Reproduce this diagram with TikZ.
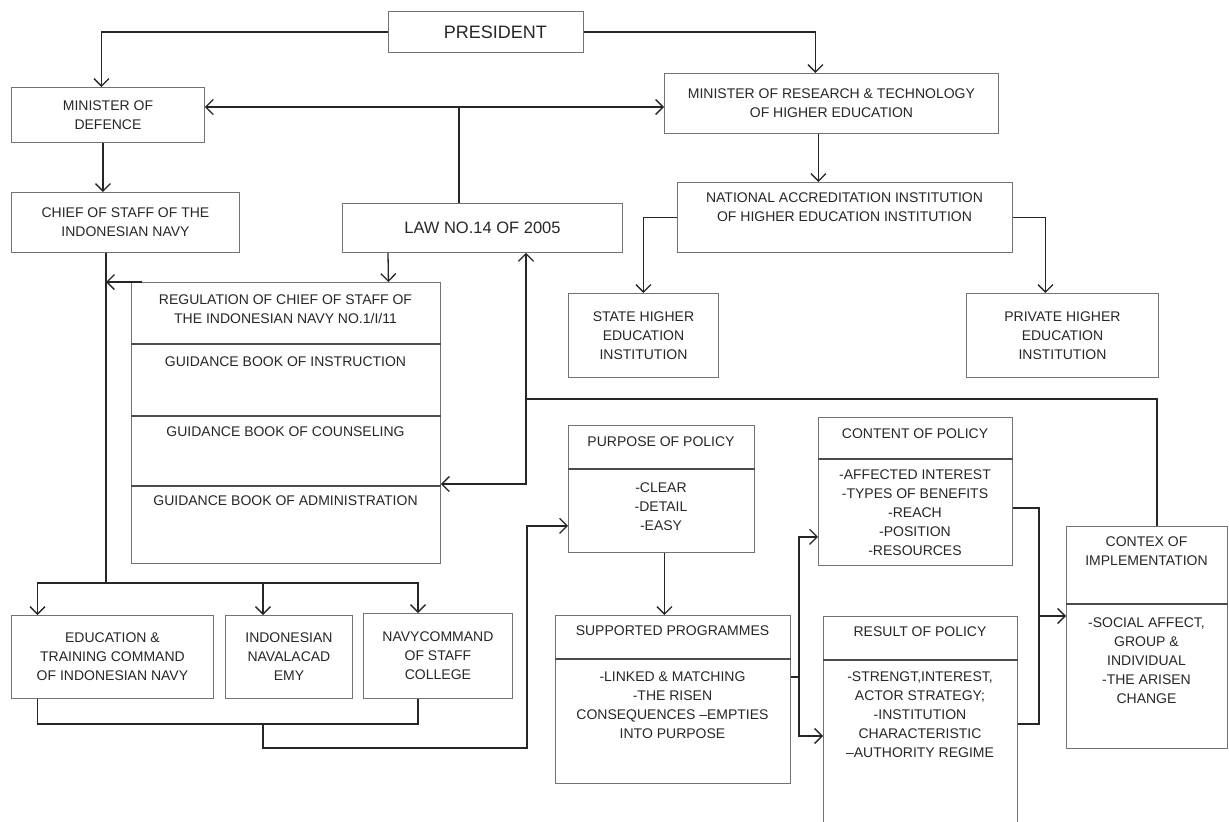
\documentclass[tikz,border=0pt]{standalone}
\usepackage{fontspec}
\setmainfont{Liberation Sans}
\usetikzlibrary{arrows.meta}

\begin{document}
\begin{tikzpicture}[x=1pt, y=-1pt,
    box/.style={draw=black!55, line width=0.9pt, inner sep=2pt, align=center, text=black!85, font=\fontsize{14}{19}\selectfont},
    txt/.style={inner sep=0pt, align=center, text=black!85, font=\fontsize{14}{19}\selectfont},
    link/.style={draw=black!85, line width=1.3pt},
    sep/.style={draw=black!70, line width=1.2pt},
    arr/.style={link, -{Straight Barb[length=7.5pt, width=15pt]}},
    arr2/.style={link, {Straight Barb[length=7.5pt, width=15pt]}-{Straight Barb[length=7.5pt, width=15pt]}}]
    \useasboundingbox (0,0) rectangle (1229,822);

    \node[box, anchor=north west, minimum width=195pt, minimum height=41pt, font=\fontsize{18}{22}\selectfont] (pres) at (388,11) {\hspace*{19pt}PRESIDENT};
    \node[box, anchor=north west, minimum width=193pt, minimum height=55pt] (mod) at (11,87) {MINISTER OF\\DEFENCE};
    \node[box, anchor=north west, minimum width=228pt, minimum height=60pt] (chief) at (11,192) {CHIEF OF STAFF OF THE\\INDONESIAN NAVY};
    \node[box, anchor=north west, minimum width=334pt, minimum height=60pt] (mor) at (664,73) {MINISTER OF RESEARCH \& TECHNOLOGY\\OF HIGHER EDUCATION};
    \node[box, anchor=north west, minimum width=280pt, minimum height=49pt, font=\fontsize{16.5}{20}\selectfont] (law) at (342,203) {LAW NO.14 OF 2005};
    \node[box, anchor=north west, minimum width=335pt, minimum height=70pt] (nai) at (677,182) {};
    \node[txt] (nai-t) at (844.5,207.5) {NATIONAL ACCREDITATION INSTITUTION\\OF HIGHER EDUCATION INSTITUTION};
    \node[box, anchor=north west, minimum width=150pt, minimum height=84pt] (state) at (568,293) {STATE HIGHER\\EDUCATION\\INSTITUTION};
    \node[box, anchor=north west, minimum width=192pt, minimum height=84pt] (priv) at (966,293) {PRIVATE HIGHER\\EDUCATION\\INSTITUTION};

    \node[box, anchor=north west, minimum width=309pt, minimum height=281pt] (reg) at (131,282) {};
    \foreach \y in {344,416,486}
        \draw[sep] (reg.west |- 0,\y) -- (reg.east |- 0,\y);
    \node[txt] (reg-t) at (285.5,309) {REGULATION OF CHIEF OF STAFF OF\\THE INDONESIAN NAVY NO.1/I/11};
    \node[txt] (ins-t) at (285.5,362) {GUIDANCE BOOK OF INSTRUCTION};
    \node[txt] (cou-t) at (285.5,432) {GUIDANCE BOOK OF COUNSELING};
    \node[txt] (adm-t) at (285.5,501) {GUIDANCE BOOK OF ADMINISTRATION};

    \node[box, anchor=north west, minimum width=202pt, minimum height=83pt] (edu) at (11,615) {EDUCATION \&\\TRAINING COMMAND\\OF INDONESIAN NAVY};
    \node[box, anchor=north west, minimum width=127pt, minimum height=83pt] (acad) at (225,615) {INDONESIAN\\NAVALACAD\\EMY};
    \node[box, anchor=north west, minimum width=149pt, minimum height=85pt] (navc) at (363,613) {NAVYCOMMAND\\OF STAFF\\COLLEGE};

    \node[box, anchor=north west, minimum width=186pt, minimum height=127pt] (purp) at (568,425) {};
    \draw[sep] (purp.west |- 0,469) -- (purp.east |- 0,469);
    \node[txt] (purp-h) at (661,442) {PURPOSE OF POLICY};
    \node[txt] (purp-t) at (661,507) {-CLEAR\\-DETAIL\\-EASY};

    \node[box, anchor=north west, minimum width=235pt, minimum height=168pt] (sup) at (555,615) {};
    \draw[sep] (sup.west |- 0,659) -- (sup.east |- 0,659);
    \node[txt] (sup-h) at (672.5,631) {SUPPORTED PROGRAMMES};
    \node[txt] (sup-t) at (672.5,705) {-LINKED \& MATCHING\\-THE RISEN\\CONSEQUENCES --EMPTIES\\INTO PURPOSE};

    \node[box, anchor=north west, minimum width=194pt, minimum height=148pt] (cont) at (818,417) {};
    \draw[sep] (cont.west |- 0,459) -- (cont.east |- 0,459);
    \node[txt] (cont-h) at (915,434) {CONTENT OF POLICY};
    \node[txt] (cont-t) at (915,513) {-AFFECTED INTEREST\\-TYPES OF BENEFITS\\-REACH\\-POSITION\\-RESOURCES};

    \node[box, anchor=north west, minimum width=194pt, minimum height=208pt] (res) at (823,616) {};
    \draw[sep] (res.west |- 0,660) -- (res.east |- 0,660);
    \node[txt] (res-h) at (920,632) {RESULT OF POLICY};
    \node[txt] (res-t) at (920,715) {-STRENGT,INTEREST,\\ACTOR STRATEGY;\\-INSTITUTION\\CHARACTERISTIC\\--AUTHORITY REGIME};

    \node[box, anchor=north west, minimum width=161pt, minimum height=222pt] (ctx) at (1066,526) {};
    \draw[sep] (ctx.west |- 0,604) -- (ctx.east |- 0,604);
    \node[txt] (ctx-h) at (1146.5,551.5) {CONTEX OF\\IMPLEMENTATION};
    \node[txt] (ctx-t) at (1146.5,661) {-SOCIAL AFFECT,\\GROUP \&\\INDIVIDUAL\\-THE ARISEN\\CHANGE};

    \coordinate (top) at (459,107);
    \coordinate (spine) at (106,583);
    \coordinate (mid) at (263,724);
    \coordinate (low) at (527,748);
    \coordinate (back) at (526,399);
    \coordinate (fork) at (799,677);
    \coordinate (join) at (1039,616);

    \draw[arr] (pres.west) -| ([xshift=-6.5pt]mod.north);
    \draw[arr] (pres.east) -| ([xshift=-16pt]mor.north);
    \draw[arr2] (mod.east |- top) -- (mor.west |- top);
    \draw[link] (top) -- (top |- law.north);
    \draw[arr] ([xshift=-5pt]mod.south) -- ([xshift=-22.5pt]chief.north);
    \draw[arr] ([xshift=-13pt]mor.south) -- ([xshift=-26.5pt]nai.north);
    \draw[arr] (nai.west) -| (state.north);
    \draw[arr] (nai.east) -| ([xshift=-17pt]priv.north);
    \draw[link] (chief.south -| spine) -- (spine);
    \draw[arr] ([xshift=11pt]reg.north west) -- (reg.north west -| spine);
    \draw[arr] ([xshift=46pt]law.south west) -- ([xshift=102.5pt]reg.north);
    \draw[arr] (spine) -| ([xshift=26.5pt]edu.north west);
    \draw[arr] (spine) -| ([xshift=38pt]acad.north west);
    \draw[arr] (spine) -| ([xshift=55pt]navc.north west);
    \draw[link] ([xshift=26.5pt]edu.south west) |- (mid) -| ([xshift=55pt]navc.south west);
    \draw[arr] (mid) |- (low) |- ([yshift=27pt]purp.south west);
    \draw[arr] ([xshift=91pt]ctx.north west) |- (back) -- (back |- law.south);
    \draw[arr] (back) |- ([yshift=-202pt]reg.north east);
    \draw[arr] ([xshift=3pt]purp.south) -- ([xshift=-8.5pt]sup.north);
    \draw[link] (sup.east |- fork) -- (fork);
    \draw[arr] (fork) |- ([yshift=29pt]cont.south west);
    \draw[arr] (fork) |- ([yshift=-120pt]res.north west);
    \draw[link] ([yshift=-91pt]cont.north east) -| (join);
    \draw[link] ([yshift=-108pt]res.north east) -| (join);
    \draw[arr] (join) -- (join -| ctx.west);
\end{tikzpicture}
\end{document}
